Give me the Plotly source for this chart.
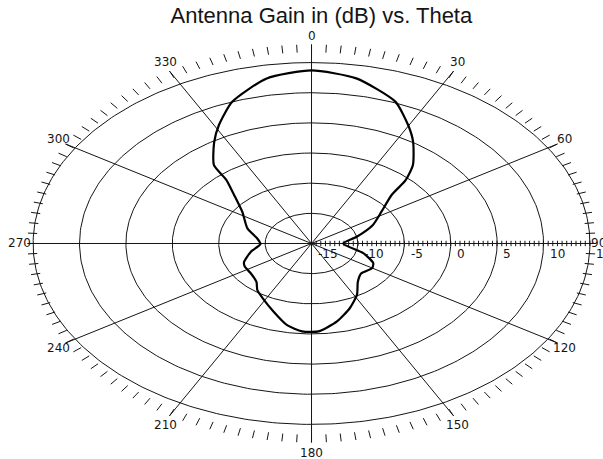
import numpy
import plotly.graph_objects as go

# pattern: angle (deg, clockwise from 0) and gain (dB)
theta = [0, 10, 21, 28, 33, 40, 44, 47, 55, 65, 77, 90, 106, 116, 122, 133, 142,
         150, 159, 168, 177, 184, 191, 200, 210, 217, 223, 233, 242, 247, 258,
         269, 278, 290, 305, 314, 319, 321, 328, 333, 340, 350, 360]
gain = [13.7, 12.8, 10.2, 7.2, 5.1, 2.0, -0.4, -3.2, -5.8, -7.7, -10.0, -11.6,
        -9.2, -7.6, -7.3, -7.7, -6.9, -5.2, -3.5, -1.8, -0.4, -0.4, -1.2, -3.0,
        -4.5, -5.3, -6.3, -6.8, -6.85, -7.1, -8.3, -9.5, -9.1, -7.65, -5.9, -3.4,
        -1.0, 1.7, 4.8, 7.0, 10.0, 12.8, 13.7]

angle_labels = ["0", "30", "60", "90", "120", "150", "180", "210", "240", "270", "300", "330"]
angle_ticks = [0, 30, 60, 90, 120, 150, 180, 210, 240, 270, 300, 330]
ring_db = [-15, -10, -5, 0, 5, 10, 15]

r_min = -15  # centre of the plot
r_max = 15

ink = "#151515"
num_font = dict(family="DejaVu Sans", size=12, color=ink)

fig = go.Figure()

# rings
phi = numpy.radians(numpy.linspace(0, 360, 361))
for db in ring_db[1:]:
    r = db - r_min
    fig.add_trace(go.Scatter(x=r * numpy.sin(phi), y=r * numpy.cos(phi), mode="lines",
                             line=dict(color=ink, width=1), hoverinfo="skip"))

# spokes, run out to the tick ring
sx, sy = [], []
for a in angle_ticks:
    t = numpy.radians(a)
    sx += [0, 30.6 * numpy.sin(t), None]
    sy += [0, 33.0 * numpy.cos(t), None]
fig.add_trace(go.Scatter(x=sx, y=sy, mode="lines", line=dict(color=ink, width=1), hoverinfo="skip"))

# outer angle ticks every 3 deg
tx, ty = [], []
for a in numpy.arange(0, 360, 3):
    t = numpy.radians(a)
    tx += [29.6 * numpy.sin(t), 30.6 * numpy.sin(t), None]
    ty += [31.7 * numpy.cos(t), 33.0 * numpy.cos(t), None]
fig.add_trace(go.Scatter(x=tx, y=ty, mode="lines", line=dict(color=ink, width=1), hoverinfo="skip"))

# radial ticks along the 90 deg spoke, every 0.5 dB
rx, ry = [], []
for v in numpy.arange(0, r_max - r_min + 0.01, 0.5):
    rx += [v, v, None]
    ry += [-0.45, 0.45, None]
fig.add_trace(go.Scatter(x=rx, y=ry, mode="lines", line=dict(color=ink, width=1), hoverinfo="skip"))

# the gain pattern
rr = numpy.array(gain) - r_min
tt = numpy.radians(theta)
fig.add_trace(go.Scatter(x=rr * numpy.sin(tt), y=rr * numpy.cos(tt), mode="lines",
                         line=dict(color="black", width=2.2, shape="spline", smoothing=0.6),
                         hoverinfo="skip"))

# angle labels, centred on an ellipse just outside the ticks
for a, lab in zip(angle_ticks, angle_labels):
    t = numpy.radians(a)
    x = 31.5 * numpy.sin(t)
    y = 34.8 * numpy.cos(t)
    if a == 90:
        x = 30.9
    if a == 0:
        y = 34.4
    fig.add_annotation(x=x, y=y, text=lab, showarrow=False, xanchor="center", yanchor="middle",
                       font=num_font)

# radial labels
for db in ring_db:
    fig.add_annotation(x=db - r_min + 0.45, y=-1.75, text=str(db), showarrow=False,
                       xanchor="left", yanchor="middle", font=num_font)

fig.update_layout(
    width=603, height=459,
    margin=dict(l=0, r=0, t=0, b=0),
    paper_bgcolor="white", plot_bgcolor="white",
    showlegend=False,
    hovermode=False,
    title=dict(text="Antenna Gain in (dB) vs. Theta", x=0.533, xanchor="center",
               y=0.966, yref="container", yanchor="middle",
               font=dict(family="Liberation Sans", size=22, color=ink)),
    xaxis=dict(range=[-33.57, 31.41], visible=False, fixedrange=True),
    yaxis=dict(range=[-35.74, 40.38], visible=False, fixedrange=True),
)

fig.write_html("out.html", config={"displayModeBar": False},
               post_script="document.body.style.margin='0';")
